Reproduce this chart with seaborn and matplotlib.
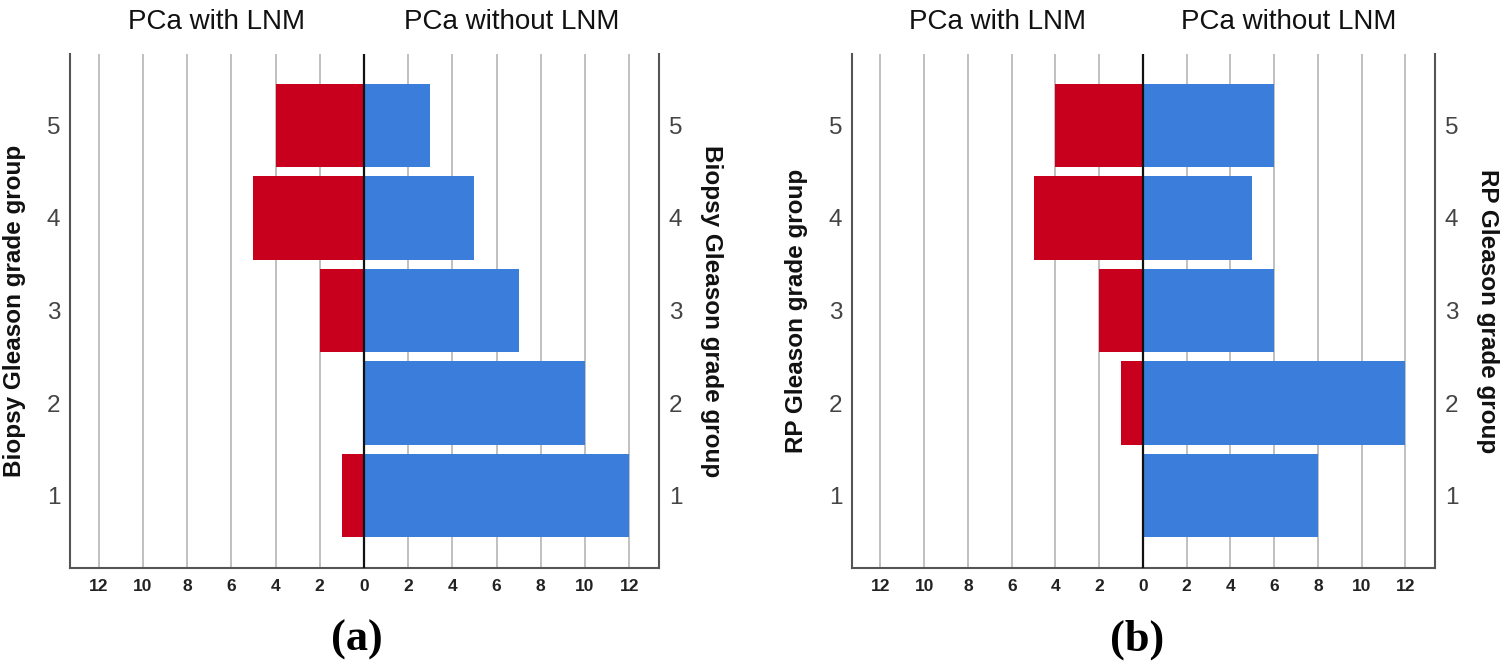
import matplotlib
matplotlib.use("Agg")
import matplotlib.pyplot as plt
import seaborn as sns
import pandas as pd
import numpy as np

grades = ["5", "4", "3", "2", "1"]
biopsy_with_lnm = [4, 5, 2, 0, 1]
biopsy_without_lnm = [3, 5, 7, 10, 12]
rp_with_lnm = [4, 5, 2, 1, 0]
rp_without_lnm = [6, 5, 6, 12, 8]
xticks = [-12, -10, -8, -6, -4, -2, 0, 2, 4, 6, 8, 10, 12]
xticklabels = [str(abs(v)) for v in xticks]

RED = "#C8001E"
BLUE = "#3B7DDB"

sns.set_style("white")
plt.rcParams["font.family"] = ["Liberation Sans", "DejaVu Sans"]

fig = plt.figure(figsize=(15.04, 6.64), dpi=100)
W, H = 1504.0, 664.0

def panel(left_px, right_px, with_vals, without_vals, ylabel, cap, cap_x):
    top_px, bot_px = 54, 568
    ax = fig.add_axes([left_px / W, 1 - bot_px / H, (right_px - left_px) / W, (bot_px - top_px) / H])
    df = pd.DataFrame({"grade": grades,
                       "with_lnm": [-v for v in with_vals],
                       "without_lnm": without_vals})
    for x in xticks:
        if x != 0:
            ax.axvline(x, color="#BBBBBB", lw=1.3, zorder=0)
    sns.barplot(data=df, x="with_lnm", y="grade", order=grades, orient="h",
                color=RED, saturation=1, width=0.9, linewidth=0, ax=ax, zorder=2)
    sns.barplot(data=df, x="without_lnm", y="grade", order=grades, orient="h",
                color=BLUE, saturation=1, width=0.9, linewidth=0, ax=ax, zorder=2)
    ax.axvline(0, color="#111111", lw=1.6, zorder=3)
    ax.set_xlim(-13.3, 13.35)
    ax.set_ylim(4.78, -0.77)
    ax.set_xticks(xticks)
    ax.set_xticklabels(xticklabels, fontsize=12.5, fontweight="bold", color="#222222")
    ax.tick_params(axis="x", length=0, pad=8)
    ax.tick_params(axis="y", length=0, pad=7, labelsize=17.5, labelcolor="#444444",
                   labelleft=True, labelright=True)
    ax.set_xlabel("")
    ax.set_ylabel("")
    for s in ["left", "right", "bottom"]:
        ax.spines[s].set_visible(True)
        ax.spines[s].set_color("#555555")
        ax.spines[s].set_linewidth(1.5)
    ax.spines["top"].set_visible(False)
    zero_px = left_px + (right_px - left_px) * (13.3 / 26.65)
    fig.text(((left_px + zero_px) / 2) / W, 1 - 22 / H, "PCa with LNM",
             ha="center", va="center", fontsize=20, color="#111111")
    fig.text(((zero_px + right_px) / 2) / W, 1 - 22 / H, "PCa without LNM",
             ha="center", va="center", fontsize=20, color="#111111")
    fig.text((left_px - 55) / W, 1 - 311 / H, ylabel, rotation=90, ha="center", va="center",
             fontsize=17.5, fontweight="bold", color="#111111")
    fig.text((right_px + 52) / W, 1 - 311 / H, ylabel, rotation=270, ha="center", va="center",
             fontsize=17.5, fontweight="bold", color="#111111")
    fig.text(cap_x / W, 1 - 640 / H, cap, ha="center", va="center", fontsize=32,
             fontweight="bold", family=["Liberation Serif", "DejaVu Serif"], color="#000000")
    return ax

panel(70, 659, biopsy_with_lnm, biopsy_without_lnm, "Biopsy Gleason grade group", "(a)", 357)
panel(852, 1435, rp_with_lnm, rp_without_lnm, "RP Gleason grade group", "(b)", 1137)

fig.savefig("out.png", dpi=100)
